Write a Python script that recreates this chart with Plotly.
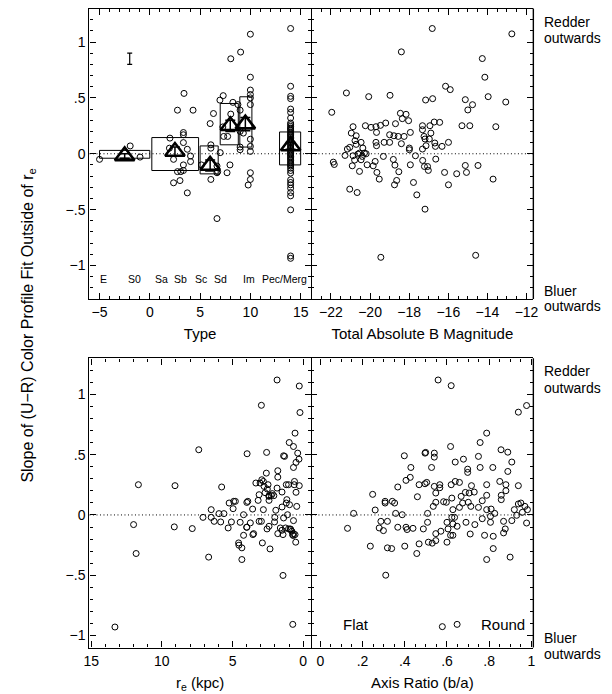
import plotly.graph_objects as go

# ---------------- data ----------------
# Panel 1: morphological type
type_x = [-5.0, -1.95, -0.97,
          2.0, 3.4, 2.75, 4.3, 3.34, 3.34, 3.34, 3.73, 4.05, 4.05, 3.34, 2.36, 1.95, 2.75, 3.08, 3.34, 3.0, 2.36, 3.73,
          5.13, 6.0, 6.33, 6.07, 6.07, 7.0, 6.68, 6.68, 6.75, 6.07, 6.68,
          7.3, 6.97, 7.97, 7.68, 7.26, 7.35, 7.74, 8.26, 8.05, 8.05, 8.76, 8.98, 8.98, 8.98, 8.98, 9.03, 9.78,
          10.0, 10.0, 10.0, 10.0, 10.0, 10.0, 10.0, 10.0, 10.0, 10.0, 10.0, 9.3]
type_y = [-0.05, 0.07, -0.03,
          0.14, 0.54, 0.39, 0.39, 0.19, 0.17, 0.10, 0.04, -0.02, -0.07, -0.10, -0.05, 0.05, -0.16, -0.16, -0.15, -0.24, -0.26, -0.35,
          -0.10, 0.27, 0.36, 0.08, 0.05, 0.01, -0.11, -0.17, -0.16, -0.23, -0.58,
          0.52, 0.48, -0.10, -0.17, 0.24, 0.155, 0.155, 0.46, 0.85, 0.355, 0.44, 0.39, 0.20, 0.06, 0.036, 0.91, -0.28,
          1.07, 0.685, 0.57, 0.53, 0.50, 0.44, 0.13, 0.066, 0.021, -0.17, -0.23, 0.185]
pec_type = 14.0
pec_y = [1.121, 0.604, 0.514, 0.493, 0.40, 0.37, 0.32, 0.275, 0.26, 0.245, 0.23, 0.221, 0.21, 0.194, 0.18,
         0.17, 0.16, 0.146, 0.135, 0.123, 0.11, 0.096, 0.085, 0.072, 0.06, 0.048, 0.035, 0.021, 0.01, 0.0,
         -0.012, -0.024, -0.036, -0.048, -0.06, -0.075, -0.087, -0.099, -0.11, -0.129, -0.15, -0.173,
         -0.233, -0.257, -0.278, -0.308, -0.347, -0.377, -0.502, -0.915, -0.936]

# class means (triangles) and their errors
mean_x = [-2.5, 2.5, 6.0, 8.0, 9.5, 14.0]
mean_y = [-0.02, 0.02, -0.105, 0.25, 0.265, 0.07]
mean_err = [0.02, 0.04, 0.05, 0.05, 0.06, 0.03]

# quartile boxes per class
box_x0 = [-5.0, 0.2, 5.0, 7.0, 8.95, 12.9]
box_x1 = [0.0, 4.85, 6.8, 8.8, 10.15, 15.0]
box_y0 = [-0.04, -0.15, -0.18, 0.08, 0.06, -0.10]
box_y1 = [0.03, 0.145, 0.07, 0.45, 0.51, 0.195]

# typical error bar
err_x = [-2.0]
err_y = [0.85]
err_size = [0.05]

type_labels = ["E", "S0", "Sa", "Sb", "Sc", "Sd", "Im", "Pec/Merg"]
type_label_x = [-4.6, -1.55, 1.2, 3.1, 5.05, 7.0, 9.85, 13.4]

# Panel 2: total absolute B magnitude
mag_x = [-16.82, -12.75, -18.40, -14.26, -14.13, -21.21, -20.07, -18.98, -16.14, -15.90, -13.96, -13.06, -15.13,
         -14.76, -15.0, -17.16, -16.8, -21.96, -18.45, -18.16, -18.35, -18.03, -18.7, -19.2, -19.47, -19.7, -19.95,
         -20.24, -20.87, -19.67, -20.96, -20.71, -20.77, -21.04, -21.16, -21.28, -20.87, -20.71, -20.46, -20.37,
         -20.54, -20.62, -20.29, -20.2, -20.4, -20.46, -20.79, -20.91, -20.54, -21.88, -21.83, -21.04, -20.66,
         -20.15, -19.84, -19.74, -19.65, -19.53, -19.70, -19.67, -19.28, -19.0, -19.0, -18.78, -18.56, -18.26,
         -18.40, -17.94, -17.99, -17.99, -19.32, -18.81, -18.73, -18.53, -18.64, -18.75, -17.94, -17.78, -17.68,
         -17.61, -17.19, -17.32, -17.32, -17.24, -17.19, -16.97, -16.89, -16.94, -16.72, -16.44, -16.69, -16.66,
         -17.14, -17.32, -16.32, -15.99, -16.64, -17.31, -17.22, -17.06, -17.02, -16.19, -15.99, -15.57, -15.30,
         -14.90, -15.13, -15.07, -14.48, -13.71, -13.57, -19.45, -14.60]
mag_y = [1.121, 1.073, 0.912, 0.852, 0.685, 0.544, 0.511, 0.523, 0.604, 0.574, 0.511, 0.463, 0.484,
         0.439, 0.392, 0.481, 0.493, 0.371, 0.362, 0.353, 0.314, 0.296, 0.269, 0.275, 0.254, 0.242, 0.236,
         0.251, 0.242, 0.191, 0.185, 0.161, 0.117, 0.057, 0.042, -0.015, -0.018, 0.084, 0.102, 0.051,
         0.006, -0.003, 0.006, 0.0, -0.024, -0.054, -0.057, -0.108, -0.158, -0.075, -0.096, -0.317, -0.347,
         -0.099, -0.108, -0.069, -0.167, -0.227, 0.102, 0.072, 0.102, 0.102, 0.170, 0.161, 0.155, 0.155,
         0.090, 0.191, 0.051, 0.036, -0.024, -0.051, -0.102, -0.161, -0.239, -0.278, -0.099, -0.257, -0.018,
         -0.368, -0.496, 0.251, 0.215, 0.155, 0.132, 0.132, 0.185, 0.251, 0.284, 0.281, 0.096, 0.066,
         0.072, 0.042, 0.066, 0.102, -0.048, -0.060, -0.114, -0.114, -0.149, -0.167, -0.278, -0.179, 0.251,
         0.251, -0.105, -0.167, -0.105, -0.227, 0.242, -0.927, -0.909]

# Panel 3: effective radius (kpc)
re_x = [13.32, 12.0, 11.82, 11.66, 9.07, 9.12, 7.39, 7.85, 7.09, 6.69, 6.51, 6.51, 6.3, 5.77, 5.96, 5.84, 5.61,
        5.31, 5.24, 4.96, 4.92, 4.8, 5.08, 4.57, 4.55, 4.46, 4.34, 4.34, 4.22, 4.22, 3.99, 3.92, 3.99, 3.97, 3.74,
        3.58, 3.51, 3.35, 3.19, 3.12, 3.05, 3.12, 2.96, 2.89, 2.96, 2.82, 2.77, 2.82, 2.7, 2.61, 2.59, 2.56, 2.49,
        2.42, 2.42, 2.42, 2.35, 2.26, 2.19, 2.08, 2.03, 2.01, 1.85, 1.8, 1.8, 1.85, 1.94, 1.8, 1.50, 1.50, 1.39,
        1.50, 1.43, 1.43, 1.39, 1.32, 1.16, 1.2, 1.2, 1.04, 1.04, 0.99, 0.97, 1.11, 0.92, 0.81, 0.76, 0.69, 0.69,
        0.64, 0.62, 0.69, 0.69, 0.58, 0.53, 0.58, 0.51, 0.51, 0.46, 0.39, 0.30, 0.28, 0.23, 0.74, 0.28,
        2.54, 2.93, 2.43, 1.62, 1.25, 0.88, 0.70, 4.0, 3.56]
re_y = [-0.930, -0.080, -0.320, 0.251, 0.243, -0.099, 0.541, -0.113, -0.020, -0.350, 0.044, -0.02, -0.053, 0.232,
        0.011, -0.058, 0.011, -0.108, 0.099, 0.052, 0.113, 0.113, -0.058, -0.232, -0.251, -0.061, -0.273, -0.370,
        0.002, -0.169, 0.104, 0.113, -0.102, 0.508, -0.066, 0.049, -0.155, 0.265, 0.121, 0.168, 0.265, -0.053,
        -0.053, -0.232, 0.910, 0.278, 0.237, 0.044, 0.185, 0.347, 0.519, -0.116, 0.251, 0.16, 0.121, -0.094,
        -0.282, 0.163, 0.177, 0.160, -0.058, -0.020, 1.120, 0.367, 0.314, 0.223, 0.039, -0.155, 0.190, 0.066,
        -0.025, -0.127, -0.163, -0.502, 0.491, 0.486, 0.127, 0.099, 0.251, 0.251, -0.116, 0.601, 0.085, 0.002,
        -0.116, -0.135, -0.163, 0.568, 0.394, 0.251, 0.278, -0.047, -0.155, -0.163, -0.226, 0.679, 0.188, 0.436,
        0.071, 0.513, 0.463, 0.243, 0.850, -0.908, 1.07,
        0.215, 0.292, 0.154, -0.108, -0.108, -0.121, -0.171, -0.102, -0.163]

# Panel 4: axis ratio b/a
ba_x = [0.129, 0.158, 0.237, 0.248, 0.260, 0.279, 0.287, 0.299, 0.307, 0.307, 0.318, 0.318, 0.338, 0.310, 0.341,
        0.352, 0.357, 0.367, 0.367, 0.388, 0.398, 0.400, 0.406, 0.406, 0.411, 0.426, 0.429, 0.439, 0.457, 0.460,
        0.468, 0.468, 0.488, 0.496, 0.499, 0.496, 0.504, 0.508, 0.508, 0.512, 0.527, 0.530, 0.535, 0.540, 0.540,
        0.540, 0.547, 0.547, 0.547, 0.547, 0.558, 0.566, 0.566, 0.571, 0.578, 0.584, 0.597, 0.600, 0.600, 0.605,
        0.617, 0.620, 0.620, 0.623, 0.623, 0.628, 0.628, 0.617, 0.628, 0.636, 0.639, 0.639, 0.648, 0.648, 0.659,
        0.659, 0.667, 0.674, 0.678, 0.687, 0.690, 0.698, 0.698, 0.701, 0.705, 0.710, 0.713, 0.716, 0.729, 0.732,
        0.749, 0.749, 0.757, 0.757, 0.767, 0.767, 0.778, 0.788, 0.788, 0.788, 0.788, 0.788, 0.806, 0.806, 0.809,
        0.817, 0.819, 0.819, 0.826, 0.850, 0.856, 0.857, 0.857, 0.868, 0.868, 0.876, 0.879, 0.879, 0.888, 0.888,
        0.899, 0.907, 0.907, 0.919, 0.930, 0.938, 0.938, 0.938, 0.950, 0.957, 0.969, 0.977, 0.977, 0.981]
ba_y = [-0.111, 0.013, -0.259, 0.171, 0.041, -0.108, -0.053, -0.130, 0.113, 0.099, -0.053, -0.273, -0.279, -0.500,
        0.113, 0.099, 0.013, 0.232, -0.102, 0.002, 0.491, -0.259, 0.287, -0.102, -0.121, 0.312, 0.394, -0.111,
        -0.320, 0.151, 0.251, -0.240, -0.116, 0.513, 0.519, 0.259, 0.270, 0.013, -0.061, -0.226, 0.394, -0.234,
        0.071, 0.513, 0.480, 0.237, 0.182, 0.105, -0.155, -0.213, 1.120, 0.251, 0.226, -0.135, -0.927, 0.110,
        0.105, -0.061, -0.226, -0.116, 0.568, 1.073, 0.251, 0.140, -0.020, 0.044, -0.075, -0.169, -0.169, -0.020,
        0.278, 0.439, -0.908, -0.094, 0.270, 0.063, 0.154, 0.099, 0.463, 0.187, -0.061, 0.380, 0.353, 0.105,
        0.182, -0.158, 0.071, 0.243, 0.190, -0.080, 0.063, 0.486, 0.601, 0.394, 0.118, -0.031, -0.169, 0.044,
        0.163, 0.251, -0.370, 0.679, -0.061, -0.011, 0.049, 0.394, -0.177, -0.279, 0.013, 0.278, 0.541, 0.163,
        0.127, -0.053, -0.149, -0.116, 0.251, 0.201, 0.521, 0.361, -0.350, 0.439, -0.047, 0.044, -0.003, 0.243,
        0.853, 0.091, 0.099, 0.022, 0.071, 0.908, -0.067, 0.044]

y_ticks = [-1, -0.5, 0, 0.5, 1]
y_ticktext = ["\u22121", "\u2212.5", "0", ".5", "1"]
type_ticks = [-5, 0, 5, 10, 15]
mag_ticks = [-22, -20, -18, -16, -14, -12]
re_ticks = [0, 5, 10, 15]
ba_ticks = [0, 0.2, 0.4, 0.6, 0.8, 1.0]
ba_ticktext = ["0", ".2", ".4", ".6", ".8", "1"]

# ---------------- figure ----------------
W, H = 612, 694
FONT = "Liberation Sans, Arial, Helvetica, sans-serif"
LW = 1.4

def px(x):
    return x / W

def py(y):
    return 1 - y / H

xl = [px(85), px(310.3)]
xr = [px(311), px(537)]
yt = [py(299), py(8.5)]
yb = [py(647.5), py(358.3)]

fig = go.Figure()

circ = dict(symbol="circle-open", size=6, color="black", line=dict(width=1, color="black"))

fig.add_trace(go.Scatter(x=type_x, y=type_y, mode="markers", marker=circ, xaxis="x", yaxis="y"))
fig.add_trace(go.Scatter(x=[pec_type] * len(pec_y), y=pec_y, mode="markers", marker=circ, xaxis="x", yaxis="y"))
fig.add_trace(go.Scatter(x=mean_x, y=mean_y, mode="markers",
                         marker=dict(symbol="triangle-up-open", size=17, color="black",
                                     line=dict(width=2.6, color="black")),
                         error_y=dict(type="data", array=mean_err, color="black", thickness=1.5, width=5),
                         xaxis="x", yaxis="y"))
fig.add_trace(go.Scatter(x=err_x, y=err_y, mode="markers", marker=dict(size=1, color="rgba(0,0,0,0)"),
                         error_y=dict(type="data", array=err_size, color="black", thickness=1.2, width=2.5),
                         xaxis="x", yaxis="y"))
fig.add_trace(go.Scatter(x=mag_x, y=mag_y, mode="markers", marker=circ, xaxis="x2", yaxis="y2"))
fig.add_trace(go.Scatter(x=re_x, y=re_y, mode="markers", marker=circ, xaxis="x3", yaxis="y3"))
fig.add_trace(go.Scatter(x=ba_x, y=ba_y, mode="markers", marker=circ, xaxis="x4", yaxis="y4"))

shapes = []
for x0, x1, y0, y1 in zip(box_x0, box_x1, box_y0, box_y1):
    shapes.append(dict(type="rect", xref="x", yref="y", x0=x0, x1=x1, y0=y0, y1=y1,
                       line=dict(color="black", width=1)))
for xr_, yr_ in [("x", "y"), ("x2", "y2"), ("x3", "y3"), ("x4", "y4")]:
    shapes.append(dict(type="line", xref=xr_ + " domain", yref=yr_, x0=0, x1=1, y0=0, y1=0,
                       line=dict(color="black", width=1, dash="1px,2.5px")))
# right-hand frame edge of the right panels (their left edge is the shared middle line)
for xr_, yr_ in [("x2", "y2"), ("x4", "y4")]:
    shapes.append(dict(type="line", xref=xr_ + " domain", yref=yr_ + " domain", x0=1, x1=1, y0=0, y1=1,
                       line=dict(color="black", width=LW)))

common = dict(showline=True, linecolor="black", linewidth=LW, mirror="ticks", ticks="inside",
              ticklen=6, tickwidth=1, tickcolor="black", showgrid=False, zeroline=False,
              tickfont=dict(family=FONT, size=14, color="black"),
              minor=dict(ticks="inside", ticklen=3, tickwidth=1, tickcolor="black", showgrid=False,
                         tickmode="linear"))

def ax(**kw):
    d = dict(common)
    d["minor"] = dict(common["minor"])
    if "minor_dtick" in kw:
        d["minor"]["dtick"] = kw.pop("minor_dtick")
        d["minor"]["tick0"] = kw.pop("minor_tick0", 0)
    d.update(kw)
    return d

TITLE_FONT = dict(family=FONT, size=15, color="black")

fig.update_layout(
    width=W, height=H, margin=dict(l=0, r=0, t=0, b=0),
    paper_bgcolor="white", plot_bgcolor="white", showlegend=False,
    font=dict(family=FONT, color="black"),
    xaxis=ax(domain=xl, anchor="y", range=[-6, 16], tickmode="array", tickvals=type_ticks, minor_dtick=1,
             title=dict(text="Type", font=TITLE_FONT, standoff=9)),
    yaxis=ax(domain=yt, anchor="x", range=[-1.3, 1.3], tickmode="array", tickvals=y_ticks,
             ticktext=y_ticktext, minor_dtick=0.1),
    xaxis2=ax(domain=xr, anchor="y2", range=[-23, -11.65], tickmode="array", tickvals=mag_ticks,
              minor_dtick=0.5, title=dict(text="Total Absolute B Magnitude", font=TITLE_FONT, standoff=9)),
    yaxis2=ax(domain=yt, anchor="x2", range=[-1.3, 1.3], tickmode="array", tickvals=y_ticks,
              showticklabels=False, showline=False, minor_dtick=0.1),
    xaxis3=ax(domain=xl, anchor="y3", range=[15.12, -0.53], tickmode="array", tickvals=re_ticks,
              minor_dtick=1, title=dict(text="r<sub>e</sub> (kpc)", font=TITLE_FONT, standoff=9)),
    yaxis3=ax(domain=yb, anchor="x3", range=[-1.1, 1.3], tickmode="array", tickvals=y_ticks,
              ticktext=y_ticktext, minor_dtick=0.1),
    xaxis4=ax(domain=xr, anchor="y4", range=[-0.042, 1.009], tickmode="array", tickvals=ba_ticks,
              ticktext=ba_ticktext, minor_dtick=0.05,
              title=dict(text="Axis Ratio (b/a)", font=TITLE_FONT, standoff=9)),
    yaxis4=ax(domain=yb, anchor="x4", range=[-1.1, 1.3], tickmode="array", tickvals=y_ticks,
              showticklabels=False, showline=False, minor_dtick=0.1),
    shapes=shapes,
)

ann = []
for lab, lx in zip(type_labels, type_label_x):
    ann.append(dict(x=lx, y=-1.12, xref="x", yref="y", text=lab, showarrow=False,
                    font=dict(size=10.5, family=FONT)))
ann.append(dict(x=0.171, y=-0.908, xref="x4", yref="y4", text="Flat", showarrow=False,
                font=dict(size=15, family=FONT)))
ann.append(dict(x=0.865, y=-0.908, xref="x4", yref="y4", text="Round", showarrow=False,
                font=dict(size=15, family=FONT)))

def pann(text, x, y, size, xanchor="center", angle=0):
    return dict(x=px(x), y=py(y), xref="paper", yref="paper", text=text, showarrow=False,
                xanchor=xanchor, yanchor="middle", textangle=angle,
                font=dict(size=size, family=FONT, color="black"))

ann.append(pann("Slope of (U\u2212R) Color Profile Fit Outside of r<sub>e</sub>", 22, 326, 16, angle=-90))
for t, y in [("Redder", 21.5), ("outwards", 37.5), ("Bluer", 291), ("outwards", 306),
             ("Redder", 371), ("outwards", 388), ("Bluer", 637.5), ("outwards", 654)]:
    ann.append(pann(t, 546, y, 14, xanchor="left"))
fig.update_layout(annotations=ann)

fig.write_html("out.html", config={"displayModeBar": False})
